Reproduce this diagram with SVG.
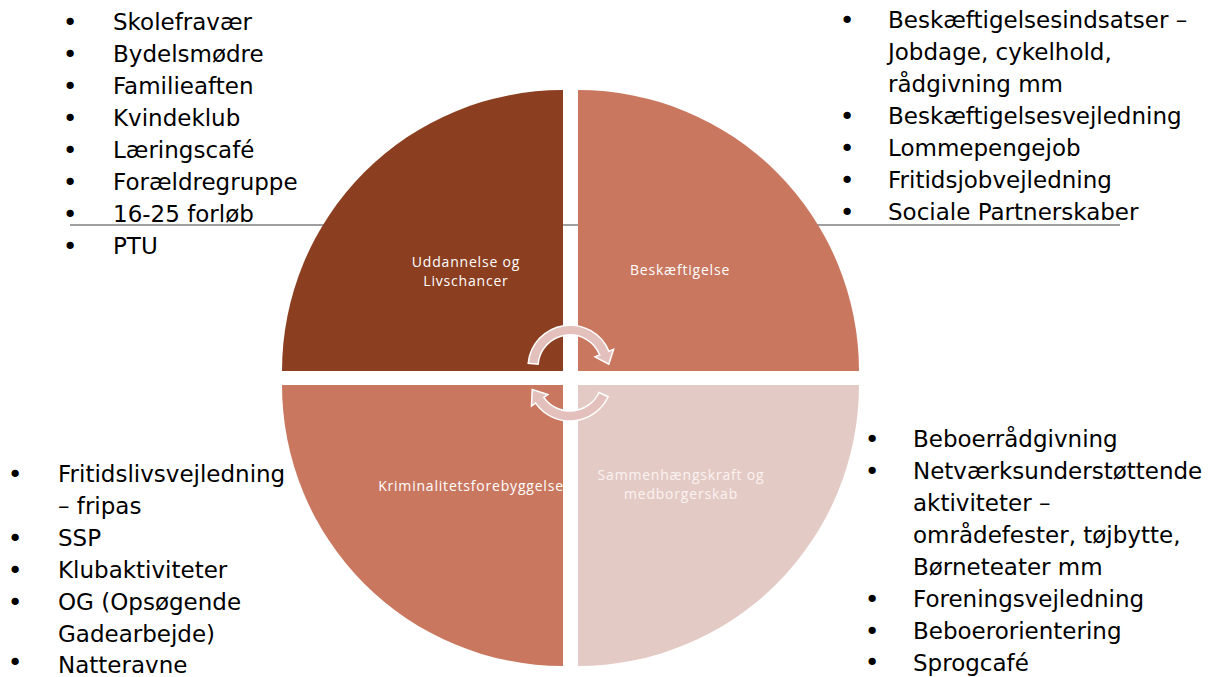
<svg xmlns="http://www.w3.org/2000/svg" width="1214" height="677" viewBox="0 0 1214 677">
<style>
.list{font-family:"DejaVu Sans","Liberation Sans",sans-serif;font-size:23px;fill:#000}
.bul{text-anchor:middle;font-size:25px}
.lbl{font-family:"Open Sans","Liberation Sans",sans-serif;font-size:14px;letter-spacing:0.8px;text-anchor:middle}
.arrow{fill:#E3C0BB;stroke:#FFFFFF;stroke-width:1.5;stroke-linejoin:miter}
</style>
<defs>
<clipPath id="clipBL"><path d="M563,385 L563,666 A281,281 0 0 1 282,385 Z"/></clipPath>
</defs>
<rect width="1214" height="677" fill="#FFFFFF"/>
<line x1="70" y1="225" x2="1120" y2="225" stroke="#7F7F7F" stroke-width="1.5"/>

<g id="node-uddannelse">
<path d="M563,371 L282,371 A281,281 0 0 1 563,90 Z" fill="#8B3E20"/>
<text class="lbl" fill="#FFFFFF"><tspan x="466" y="267">Uddannelse og</tspan><tspan x="466" y="286">Livschancer</tspan></text>
</g>
<g id="node-beskaeftigelse">
<path d="M578,371 L578,90 A281,281 0 0 1 859,371 Z" fill="#C9775F"/>
<text class="lbl" fill="#FFFFFF" x="680" y="275">Beskæftigelse</text>
</g>
<g id="node-kriminalitet">
<path d="M563,385 L563,666 A281,281 0 0 1 282,385 Z" fill="#C9775F"/>
<text class="lbl" fill="#FFFFFF" x="471" y="491" clip-path="url(#clipBL)">Kriminalitetsforebyggelse</text>
</g>
<g id="node-sammenhaeng">
<path d="M578,385 L859,385 A281,281 0 0 1 578,666 Z" fill="#E4CAC5"/>
<text class="lbl" fill="#FAF3F1"><tspan x="681" y="480">Sammenhængskraft og</tspan><tspan x="681" y="499">medborgerskab</tspan></text>
</g>

<g id="connectors">
<path class="arrow" d="M528.2,363.3 A42,42 0 0 1 608.9,351.3 L613.6,349.4 L608.8,364.2 L595.0,356.9 L599.7,355.0 A32,32 0 0 0 538.1,364.2 Z"/>
<path class="arrow" d="M608.1,396.7 A42,42 0 0 1 535.6,403.1 L531.5,406.0 L532.2,389.6 L547.9,394.5 L543.8,397.4 A32,32 0 0 0 599.0,392.5 Z"/>
</g>

<g id="list-uddannelse" class="list">
<text class="bul" x="70" y="31">•</text><text x="113" y="30">Skolefravær</text>
<text class="bul" x="70" y="63">•</text><text x="113" y="62">Bydelsmødre</text>
<text class="bul" x="70" y="95">•</text><text x="113" y="94">Familieaften</text>
<text class="bul" x="70" y="127">•</text><text x="113" y="126">Kvindeklub</text>
<text class="bul" x="70" y="159">•</text><text x="113" y="158">Læringscafé</text>
<text class="bul" x="70" y="191">•</text><text x="113" y="190">Forældregruppe</text>
<text class="bul" x="70" y="223">•</text><text x="113" y="222">16-25 forløb</text>
<text class="bul" x="70" y="255">•</text><text x="113" y="254">PTU</text>
</g>

<g id="list-beskaeftigelse" class="list">
<text class="bul" x="847" y="29">•</text><text x="888" y="28">Beskæftigelsesindsatser –</text>
<text x="888" y="60">Jobdage, cykelhold,</text>
<text x="888" y="92">rådgivning mm</text>
<text class="bul" x="847" y="125">•</text><text x="888" y="124">Beskæftigelsesvejledning</text>
<text class="bul" x="847" y="157">•</text><text x="888" y="156">Lommepengejob</text>
<text class="bul" x="847" y="189">•</text><text x="888" y="188">Fritidsjobvejledning</text>
<text class="bul" x="847" y="221">•</text><text x="888" y="220">Sociale Partnerskaber</text>
</g>

<g id="list-kriminalitet" class="list">
<text class="bul" x="15" y="483">•</text><text x="58" y="482">Fritidslivsvejledning</text>
<text x="58" y="514">– fripas</text>
<text class="bul" x="15" y="547">•</text><text x="58" y="546">SSP</text>
<text class="bul" x="15" y="579">•</text><text x="58" y="578">Klubaktiviteter</text>
<text class="bul" x="15" y="611">•</text><text x="58" y="610">OG (Opsøgende</text>
<text x="58" y="642">Gadearbejde)</text>
<text class="bul" x="15" y="671">•</text><text x="58" y="673">Natteravne</text>
</g>

<g id="list-sammenhaeng" class="list">
<text class="bul" x="872" y="448">•</text><text x="913" y="447">Beboerrådgivning</text>
<text class="bul" x="872" y="480">•</text><text x="913" y="479">Netværksunderstøttende</text>
<text x="913" y="511">aktiviteter –</text>
<text x="913" y="543">områdefester, tøjbytte,</text>
<text x="913" y="575">Børneteater mm</text>
<text class="bul" x="872" y="608">•</text><text x="913" y="607">Foreningsvejledning</text>
<text class="bul" x="872" y="640">•</text><text x="913" y="639">Beboerorientering</text>
<text class="bul" x="872" y="671">•</text><text x="913" y="671">Sprogcafé</text>
</g>
</svg>
